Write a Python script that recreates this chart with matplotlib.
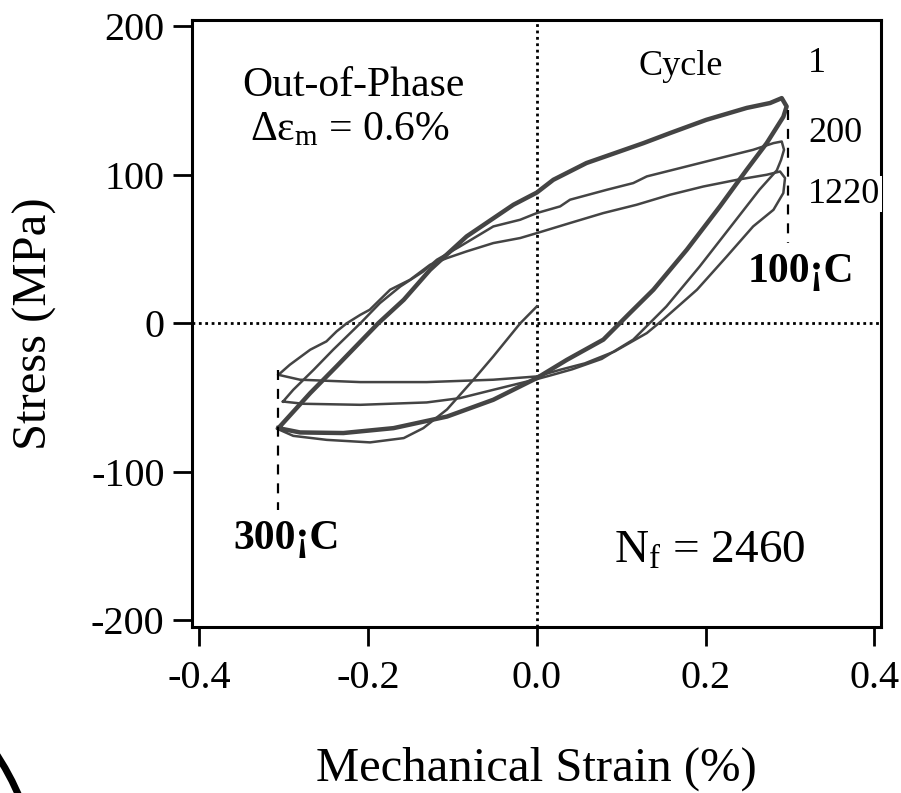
import matplotlib
matplotlib.use('Agg')
import matplotlib.pyplot as plt
from matplotlib.lines import Line2D
from matplotlib.ticker import FormatStrFormatter

# initial quarter cycle: start at zero strain, loaded into compression
first_strain = [0.0001, -0.0195, -0.0514, -0.0749, -0.1062, -0.1343, -0.1575,
                -0.1974, -0.2487, -0.2884, -0.3035]
first_stress = [11.3, 0.0, -22.3, -38.0, -58.0, -70.6, -77.3, -80.2, -78.5,
                -75.8, -72.0]

# cycle 1 loop
cycle1_strain = [-0.306, -0.2683, -0.2371, -0.1877, -0.1575, -0.1263, -0.0830,
                 -0.0276, 0.0001, 0.0197, 0.059, 0.0983, 0.1265, 0.1577, 0.201,
                 0.2488, 0.2765, 0.2903, 0.2961, 0.2922, 0.2725, 0.2488, 0.2171,
                 0.1778, 0.1383, 0.1104, 0.079, 0.0358, 0.0001, -0.0514,
                 -0.1062, -0.1696, -0.229, -0.2804, -0.306]
cycle1_stress = [-70.6, -47.0, -29.0, 0.0, 15.8, 36.0, 58.5, 79.8, 88.0, 96.6,
                 107.9, 115.7, 121.3, 128.0, 137.0, 145.0, 148.3, 151.6, 146.0,
                 139.0, 121.3, 103.4, 78.7, 49.5, 22.6, 6.9, -11.0, -24.6,
                 -36.9, -51.5, -62.8, -70.6, -73.9, -73.5, -70.6]

# cycle 200 loop
cycle200_strain = [-0.3005, -0.2884, -0.2642, -0.2411, -0.2089, -0.1857,
                   -0.1615, -0.1343, -0.1182, -0.0910, -0.0514, -0.0196,
                   0.0001, 0.0278, 0.0395, 0.0832, 0.1144, 0.1305, 0.1698,
                   0.2090, 0.2564, 0.2805, 0.2903, 0.2930, 0.2895, 0.2845,
                   0.264, 0.2332, 0.193, 0.1536, 0.1144, 0.077, 0.042, 0.017,
                   0.0001, -0.0514, -0.0910, -0.1303, -0.2089, -0.2763, -0.3005]
cycle200_stress = [-52.7, -44.8, -31.3, -17.8, 0.0, 13.6, 24.8, 34.9, 42.8,
                   51.7, 65.2, 69.7, 74.2, 78.7, 83.2, 89.9, 94.4, 98.9, 104.5,
                   110.1, 116.8, 121.3, 122.4, 116.8, 110.0, 103.0, 90.0, 67.5,
                   38.2, 11.3, -11.0, -24.0, -31.0, -35.0, -37.6, -44.8, -50.4,
                   -53.3, -54.9, -54.2, -52.7]

# cycle 1220 loop
cycle1220_strain = [-0.306, -0.2924, -0.2683, -0.2491, -0.2371, -0.2250,
                    -0.2089, -0.1978, -0.1736, -0.1501, -0.1263, -0.1062,
                    -0.0830, -0.0514, -0.0195, 0.0001, 0.0395, 0.0789, 0.1184,
                    0.1577, 0.1975, 0.2372, 0.2725, 0.2883, 0.2942, 0.2922,
                    0.2805, 0.2564, 0.2252, 0.1899, 0.1496, 0.1305, 0.0922,
                    0.057, 0.0278, 0.0001, -0.0514, -0.1303, -0.2089, -0.2804,
                    -0.306]
cycle1220_stress = [-34.7, -27.9, -17.8, -12.2, -5.5, 0.0, 5.7, 9.1, 22.6, 29.3,
                    39.4, 43.9, 48.4, 54.0, 57.4, 60.7, 67.5, 74.2, 79.8, 86.5,
                    92.1, 96.6, 100.0, 102.2, 97.8, 87.7, 76.4, 65.2, 45.0,
                    22.6, 2.4, -6.6, -19.0, -27.0, -31.3, -35.8, -38.0, -39.6,
                    -39.6, -38.0, -34.7]

# temperature markers (strain, stress range)
hot_strain, hot_range = -0.3064, [-31.3, -125.6]
cold_strain, cold_range = 0.2977, [143.8, 54.0]

cycle_labels = ['1', '200', '1220']
cycle_label_stress = [169.1, 122.3, 81.2]

x_ticks = [-0.4, -0.2, 0.0, 0.2, 0.4]
y_ticks = [-200, -100, 0, 100, 200]

# stray stroke in the lower left corner (figure pixels)
corner_x = [-3, 5, 12, 19]
corner_y = [755, 768, 781, 796]

W, H = 901, 793

plt.rcParams['font.family'] = 'Liberation Serif'
plt.rcParams['mathtext.fontset'] = 'custom'
plt.rcParams['mathtext.rm'] = 'Liberation Serif'
plt.rcParams['mathtext.it'] = 'Liberation Serif:italic'
plt.rcParams['axes.unicode_minus'] = False

fig = plt.figure(figsize=(W / 100, H / 100), dpi=100)
ax = fig.add_axes([191.7 / W, 1 - 627 / H, (881 - 191.7) / W, (627 - 20.3) / H])

grey = '#444444'
ax.plot(first_strain, first_stress, color=grey, lw=1.8, solid_joinstyle='round')
ax.plot(cycle1220_strain, cycle1220_stress, color=grey, lw=1.8, solid_joinstyle='round')
ax.plot(cycle200_strain, cycle200_stress, color=grey, lw=1.8, solid_joinstyle='round')
ax.plot(cycle1_strain, cycle1_stress, color=grey, lw=3.2, solid_joinstyle='round')

# zero lines
ax.axhline(0, color='black', lw=2, ls=(0, (1, 1.3)), zorder=1)
ax.axvline(0, color='black', lw=2, ls=(0, (1, 1.3)), zorder=1)

# temperature extremes
ax.plot([hot_strain, hot_strain], hot_range, color='black', lw=1.6, ls=(0, (4.5, 4)))
ax.plot([cold_strain, cold_strain], cold_range, color='black', lw=1.6, ls=(0, (4.5, 4)))
ax.text(-0.3597, -152.3, '300¡C', fontsize=30, fontweight='bold', ha='left', va='baseline')
ax.text(0.2504, 27.9, '100¡C', fontsize=30, fontweight='bold', ha='left', va='baseline')

ax.text(-0.2176, 153, 'Out-of-Phase', fontsize=30, ha='center', va='baseline')
ax.text(-0.221, 123.4, r'Δε$_{\rm m}$ = 0.6%', fontsize=30, ha='center', va='baseline')
ax.text(0.0914, -161.3, r'N$_{\rm f}$ = 2460', fontsize=34, ha='left', va='baseline')

ax.text(0.171, 167.1, 'Cycle', fontsize=26, ha='center', va='baseline')
for lab, s in zip(cycle_labels, cycle_label_stress):
    t = ax.text(0.3215, s, lab, fontsize=26, ha='left', va='baseline', clip_on=False, zorder=5)
    if lab == '1220':
        t.set_bbox(dict(facecolor='white', edgecolor='none', pad=1))

ax.set_xlim(-0.4087, 0.4079)
ax.set_ylim(-204.5, 204)
ax.set_xticks(x_ticks)
ax.set_yticks(y_ticks)
ax.xaxis.set_major_formatter(FormatStrFormatter('%.1f'))
ax.tick_params(direction='out', length=13.5, width=2, labelsize=29)
ax.tick_params(axis='x', pad=10)
ax.tick_params(axis='y', pad=6)
for sp in ax.spines.values():
    sp.set_linewidth(2.2)

ax.set_xlabel('Mechanical Strain (%)', fontsize=35, va='baseline', ha='center')
ax.xaxis.set_label_coords(0.5, -0.2538)
ax.set_ylabel('Stress (MPa)', fontsize=35, va='baseline', ha='center')
ax.yaxis.set_label_coords(-0.2099, 0.5)

fig.add_artist(Line2D([x / W for x in corner_x], [1 - y / H for y in corner_y],
                      color='black', lw=5, transform=fig.transFigure))

fig.savefig('out.png', dpi=100)
